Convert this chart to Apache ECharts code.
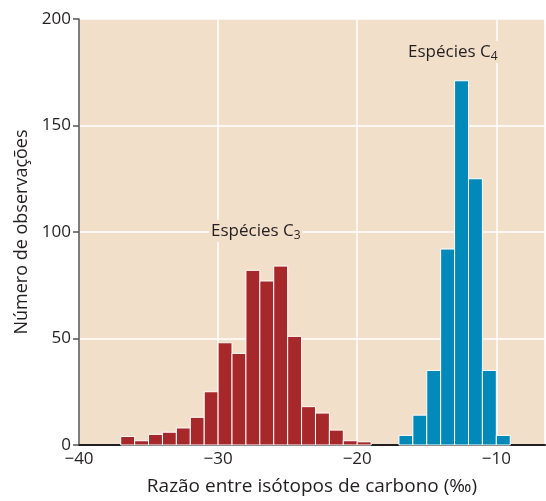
<!DOCTYPE html>
<html>
<head>
<meta charset="utf-8">
<script src="https://cdn.jsdelivr.net/npm/echarts@6/dist/echarts.min.js"></script>
<style>
  html, body { margin: 0; padding: 0; background: #fff; }
  #chart { width: 546px; height: 501px; }
</style>
</head>
<body>
<div id="chart"></div>
<script>
// histogram bins: left edge of each 1-unit bin and count
var c3Edges = [-37, -36, -35, -34, -33, -32, -31, -30, -29, -28, -27, -26, -25, -24, -23, -22, -21, -20];
var c3Counts = [4, 2, 5, 6, 8, 13, 25, 48, 43, 82, 77, 84, 51, 18, 15, 7, 2, 1.5];
var c4Edges = [-17, -16, -15, -14, -13, -12, -11, -10];
var c4Counts = [4.5, 14, 35, 92, 171, 125, 35, 4.5];
var yTicks = [0, 50, 100, 150, 200];
var xTicks = [-40, -30, -20, -10];

var FONT = 'Open Sans';
var bg = '#f2dfca';
var ink = '#231f20';

function toData(edges, counts) {
  var out = [];
  for (var i = 0; i < edges.length; i++) out.push([edges[i], edges[i] + 1, counts[i]]);
  return out;
}

function renderBin(params, api) {
  var p0 = api.coord([api.value(0), api.value(2)]);
  var p1 = api.coord([api.value(1), 0]);
  return {
    type: 'rect',
    shape: { x: p0[0], y: p0[1], width: p1[0] - p0[0], height: p1[1] - p0[1] },
    style: { fill: api.visual('color'), stroke: '#fff', lineWidth: 1 }
  };
}

function speciesLabel(sub, left, top) {
  return {
    type: 'text', left: left, top: top, z: 100,
    style: {
      text: '{a|Espécies C}{b|' + sub + '}',
      backgroundColor: bg, padding: [0, 2],
      rich: {
        a: { fontSize: 17, fontFamily: FONT, fill: ink, color: ink },
        b: { fontSize: 12, fontFamily: FONT, fill: ink, color: ink, padding: [10, 0, 0, 0] }
      }
    }
  };
}

var chart = echarts.init(document.getElementById('chart'));
var option = {
  animation: false,
  textStyle: { fontFamily: FONT },
  grid: { left: 79, right: 1, top: 19, bottom: 53, show: true, backgroundColor: bg, borderWidth: 0 },
  xAxis: {
    type: 'value',
    min: -40, max: -6.5, interval: 10,
    name: 'Razão entre isótopos de carbono (‰)',
    nameLocation: 'middle', nameGap: 32,
    nameTextStyle: { fontSize: 19, color: ink, fontFamily: FONT },
    axisLine: { show: true, onZero: false, lineStyle: { color: ink, width: 2 } },
    axisTick: { show: false },
    axisLabel: {
      fontSize: 17, color: ink, margin: 6, showMaxLabel: false,
      formatter: function (v) { return xTicks.indexOf(v) >= 0 ? String(v).replace('-', '\u2212') : ''; }
    },
    splitLine: { show: true, lineStyle: { color: '#fff', width: 1.5 } }
  },
  yAxis: {
    type: 'value',
    min: yTicks[0], max: yTicks[yTicks.length - 1], interval: 50,
    name: 'Número de observações',
    nameLocation: 'middle', nameGap: 46, nameRotate: 90,
    nameTextStyle: { fontSize: 18, color: ink, fontFamily: FONT },
    axisLine: { show: true, lineStyle: { color: '#555', width: 1.5 } },
    axisTick: { show: true, inside: false, length: 6, lineStyle: { color: '#555', width: 1.5 } },
    axisLabel: { fontSize: 17, color: ink, margin: 8 },
    splitLine: { show: true, lineStyle: { color: '#fff', width: 1.5 } }
  },
  series: [
    {
      type: 'custom', name: 'C3', renderItem: renderBin, color: '#a6282a',
      encode: { x: [0, 1], y: 2 }, data: toData(c3Edges, c3Counts)
    },
    {
      type: 'custom', name: 'C4', renderItem: renderBin, color: '#0089b9',
      encode: { x: [0, 1], y: 2 }, data: toData(c4Edges, c4Counts)
    }
  ],
  graphic: [
    speciesLabel('3', 209, 220),
    speciesLabel('4', 406, 41)
  ]
};
chart.setOption(option);
</script>
</body>
</html>
